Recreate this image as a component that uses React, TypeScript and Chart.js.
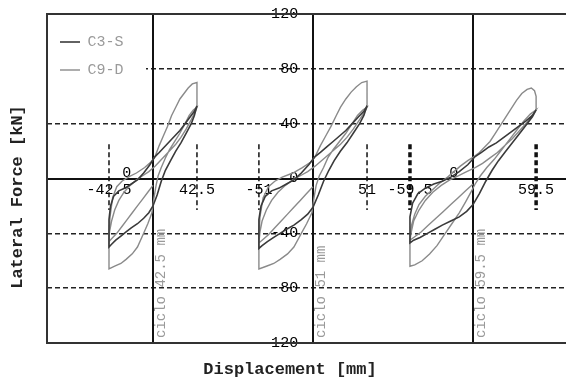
import React, { useEffect, useRef } from "react";
import { Chart, registerables } from "chart.js";

Chart.register(...registerables);

// ---------- data ----------
const cycleAmplitudes = [42.5, 51, 59.5];
const cycleNames = ["ciclo 42.5 mm", "ciclo 51 mm", "ciclo 59.5 mm"];
const forceTicks = [-120, -80, -40, 0, 40, 80, 120];
const seriesNames = ["C3-S", "C9-D"];
const markerTop = 25;
const markerBottom = -23;

// C3-S loops (displacement mm, force kN)
const c3sCycle1: [number, number][] = [
  [42.5, 53], [40, 49], [36, 45], [31, 40], [26, 35], [21, 31], [16, 27], [11, 23], [6, 19], [2, 16],
  [-3, 10], [-9, 4], [-15, -1], [-21, -4], [-27, -7], [-33, -9], [-38, -13], [-41, -20], [-42.5, -30], [-42.5, -50],
  [-40, -48], [-36, -45], [-31, -42], [-26, -39], [-21, -36], [-15, -33], [-9, -29], [-4, -25], [0, -20], [4, -12],
  [8, -2], [12, 6], [17, 13], [22, 20], [27, 26], [32, 33], [37, 40], [40, 46], [42.5, 53],
];
const c3sCycle2: [number, number][] = [
  [51, 53], [48, 49], [43, 45], [37, 40], [31, 35], [25, 31], [19, 27], [13, 23], [7, 19], [2, 16],
  [-4, 10], [-11, 4], [-18, -1], [-25, -4], [-32, -7], [-39, -9], [-45, -13], [-49, -20], [-51, -30], [-51, -51],
  [-48, -49], [-43, -46], [-37, -43], [-31, -40], [-25, -37], [-18, -34], [-11, -30], [-5, -26], [0, -21], [5, -12],
  [10, -2], [15, 6], [20, 13], [26, 20], [32, 26], [38, 33], [44, 40], [48, 46], [51, 53],
];
const c3sCycle3: [number, number][] = [
  [59.5, 50], [56, 46], [50, 42], [43, 38], [36, 34], [29, 30], [22, 26], [15, 23], [8, 19], [2, 16],
  [-5, 10], [-13, 5], [-21, 1], [-29, -2], [-37, -4], [-45, -7], [-52, -11], [-57, -18], [-59.5, -28], [-59.5, -47],
  [-56, -45], [-50, -43], [-43, -40], [-36, -37], [-29, -34], [-21, -31], [-13, -28], [-6, -24], [0, -19], [6, -11],
  [12, -2], [18, 6], [24, 13], [31, 20], [38, 27], [45, 34], [51, 40], [56, 45], [59.5, 50],
];

// C9-D loops (first cycle + repeated cycle per amplitude)
const c9dCycle1: [number, number][] = [
  [42.5, 52], [42.5, 70], [38, 69], [34, 66], [30, 62], [26, 58], [22, 52], [18, 46], [14, 38], [10, 31], [6, 24], [2, 16],
  [-2, 12], [-8, 8], [-16, 4], [-24, 1], [-30, -2], [-35, -6], [-39, -14], [-41.5, -28], [-42.5, -40], [-42.5, -66],
  [-37, -64], [-31, -62], [-26, -59], [-20, -55], [-15, -50], [-9, -40], [-5, -33], [-1, -25], [1, -14], [3, -5],
  [5, 2], [8, 8], [12, 15], [16, 21], [21, 27], [26, 33], [31, 40], [35, 46], [39, 50], [42.5, 52],
  [41, 49], [37, 43], [32, 36], [27, 30], [22, 25], [17, 21], [12, 17], [7, 13], [2, 9], [-4, 5],
  [-10, 2], [-16, -1], [-22, -5], [-28, -10], [-33, -16], [-37, -23], [-40, -31], [-42, -39], [-42.5, -46],
  [-40, -44], [-35, -40], [-30, -35], [-25, -30], [-20, -25], [-15, -20], [-10, -15], [-5, -10], [0, -5],
];
const c9dCycle2: [number, number][] = [
  [51, 52], [51, 71], [46, 70], [41, 67], [36, 63], [31, 58], [26, 52], [22, 46], [17, 38], [12, 31], [7, 24], [2, 16],
  [-2, 12], [-10, 8], [-19, 4], [-29, 1], [-36, -2], [-42, -6], [-47, -14], [-50, -28], [-51, -42], [-51, -66],
  [-44, -64], [-37, -62], [-31, -59], [-24, -55], [-18, -50], [-11, -40], [-6, -33], [-1, -25], [1, -14], [3, -5],
  [6, 2], [10, 8], [14, 15], [19, 21], [25, 27], [31, 33], [37, 40], [42, 46], [47, 50], [51, 52],
  [49, 49], [44, 43], [38, 36], [32, 30], [26, 25], [20, 21], [14, 17], [8, 13], [2, 9], [-5, 5],
  [-12, 2], [-19, -1], [-26, -5], [-33, -10], [-39, -16], [-44, -23], [-48, -31], [-50, -39], [-51, -47],
  [-48, -45], [-42, -41], [-36, -36], [-30, -31], [-24, -26], [-18, -21], [-12, -16], [-6, -11], [0, -6],
];
const c9dCycle3: [number, number][] = [
  [59.5, 50], [59.5, 60], [58, 64], [55, 66], [51, 65], [46, 62], [41, 57], [36, 51], [31, 45], [26, 39], [21, 33],
  [16, 27], [11, 23], [6, 19], [1, 16], [-5, 13], [-12, 9], [-18, 5], [-24, 1], [-31, -3], [-38, -8], [-45, -13],
  [-51, -19], [-55, -26], [-58, -34], [-59.5, -44], [-59.5, -64],
  [-55, -63], [-48, -60], [-41, -55], [-34, -49], [-27, -41], [-20, -33], [-13, -25], [-7, -17], [-2, -10], [2, -4],
  [7, 2], [13, 8], [20, 14], [27, 21], [34, 28], [41, 35], [48, 42], [54, 47], [59.5, 50],
  [57, 47], [51, 41], [44, 35], [37, 29], [30, 24], [23, 19], [16, 15], [9, 11], [2, 8], [-6, 5],
  [-14, 2], [-22, -1], [-30, -5], [-38, -10], [-45, -16], [-51, -23], [-56, -31], [-58, -38], [-59.5, -45],
  [-56, -43], [-49, -39], [-42, -34], [-35, -29], [-28, -24], [-21, -19], [-14, -14], [-7, -9], [0, -4],
];

const c3sLoops = [c3sCycle1, c3sCycle2, c3sCycle3];
const c9dLoops = [c9dCycle1, c9dCycle2, c9dCycle3];

// ---------- layout / style constants ----------
const xAxisIds = ["x1", "x2", "x3"];
const xRanges: [number, number][] = [
  [-102.4, 412.6],
  [-250.9, 251.9],
  [-401.9, 100.9],
];
const labelAxisShift = [-21, -14, -14]; // where the force labels sit, left of each zero line
const markerWidths = [1.5, 1.5, 3.5];
const C3S_COLOR = "#3a3a3a";
const C9D_COLOR = "#8a8a8a";
const MONO = "'Liberation Mono', 'DejaVu Sans Mono', monospace";

const legendBackPlugin = {
  id: "legendBack",
  beforeDatasetsDraw(chart: any) {
    const { ctx, chartArea: a } = chart;
    ctx.save();
    ctx.fillStyle = "#fff";
    ctx.fillRect(a.left + 1, a.top + 1, 98, 64);
    ctx.restore();
    if (chart.legend) chart.legend.draw();
  },
};

const framePlugin = {
  id: "frame",
  beforeDatasetsDraw(chart: any) {
    const { ctx, chartArea: a } = chart;
    ctx.save();
    ctx.strokeStyle = "#333";
    ctx.lineWidth = 2;
    ctx.strokeRect(a.left, a.top, a.right - a.left, a.bottom - a.top);
    ctx.restore();
  },
};

const notesPlugin = {
  id: "cycleNotes",
  afterDatasetsDraw(chart: any) {
    const { ctx, chartArea: a, scales } = chart;
    ctx.save();
    ctx.font = `14px ${MONO}`;
    ctx.fillStyle = "#9a9a9a";
    ctx.textAlign = "left";
    ctx.textBaseline = "middle";
    cycleNames.forEach((name, i) => {
      const x = scales[xAxisIds[i]].getPixelForValue(0) + 8;
      ctx.save();
      ctx.translate(x, a.bottom - 5);
      ctx.rotate(-Math.PI / 2);
      ctx.fillText(name, 0, 0);
      ctx.restore();
    });
    ctx.restore();
  },
};

export default function App() {
  const ref = useRef<HTMLCanvasElement | null>(null);

  useEffect(() => {
    if (!ref.current) return;
    const datasets: any[] = [];
    cycleAmplitudes.forEach((amp, i) => {
      datasets.push({
        label: i === 0 ? seriesNames[0] : "",
        data: c3sLoops[i].map(([x, y]) => ({ x, y })),
        xAxisID: xAxisIds[i],
        yAxisID: "y",
        showLine: true,
        borderColor: C3S_COLOR,
        backgroundColor: C3S_COLOR,
        borderWidth: 1.6,
        pointRadius: 0,
        tension: 0,
      });
    });
    cycleAmplitudes.forEach((amp, i) => {
      datasets.push({
        label: i === 0 ? seriesNames[1] : "",
        data: c9dLoops[i].map(([x, y]) => ({ x, y })),
        xAxisID: xAxisIds[i],
        yAxisID: "y",
        showLine: true,
        borderColor: C9D_COLOR,
        backgroundColor: C9D_COLOR,
        borderWidth: 1.4,
        pointRadius: 0,
        tension: 0,
      });
    });
    cycleAmplitudes.forEach((amp, i) => {
      [-amp, amp].forEach((d) => {
        datasets.push({
          label: "",
          data: [
            { x: d, y: markerTop },
            { x: d, y: markerBottom },
          ],
          xAxisID: xAxisIds[i],
          yAxisID: "y",
          showLine: true,
          borderColor: "#111",
          borderWidth: markerWidths[i],
          borderDash: [5, 3],
          pointRadius: 0,
        });
      });
    });

    const scales: any = {
      y: {
        axis: "y",
        type: "linear",
        position: { x2: labelAxisShift[1] },
        min: -120,
        max: 120,
        afterBuildTicks: (s: any) => {
          s.ticks = forceTicks.map((v) => ({ value: v }));
        },
        ticks: {
          font: { family: MONO, size: 15 },
          color: "#000",
          padding: 0,
          callback: (v: any) => String(v),
        },
        grid: {
          drawTicks: false,
          lineWidth: 1.5,
          color: (c: any) =>
            c.tick && (c.tick.value === 0 || Math.abs(c.tick.value) === 120) ? "rgba(0,0,0,0)" : "#222",
        },
        border: { display: false, dash: [5, 3] },
      },
    };
    // force "0" labels of the outer panels
    [0, 2].forEach((i) => {
      scales["y" + (i + 1)] = {
        axis: "y",
        type: "linear",
        position: { [xAxisIds[i]]: labelAxisShift[i] },
        min: -120,
        max: 120,
        afterBuildTicks: (s: any) => {
          s.ticks = [{ value: 0 }];
        },
        ticks: {
          font: { family: MONO, size: 15 },
          color: "#000",
          padding: 0,
          labelOffset: -5,
          callback: (v: any) => String(v),
        },
        grid: { display: false, drawTicks: false },
        border: { display: false },
      };
    });
    // solid zero lines of every panel
    xAxisIds.forEach((xid, i) => {
      scales["z" + (i + 1)] = {
        axis: "y",
        type: "linear",
        position: { [xid]: 0 },
        min: -120,
        max: 120,
        ticks: { display: false },
        grid: { display: false, drawTicks: false },
        border: { display: true, color: "#111", width: 2 },
      };
    });
    xAxisIds.forEach((id, i) => {
      scales[id] = {
        axis: "x",
        type: "linear",
        position: { y: 0 },
        min: xRanges[i][0],
        max: xRanges[i][1],
        afterBuildTicks: (s: any) => {
          s.ticks = [{ value: -cycleAmplitudes[i] }, { value: cycleAmplitudes[i] }];
        },
        ticks: {
          font: { family: MONO, size: 15 },
          color: "#000",
          padding: 3,
          maxRotation: 0,
          autoSkip: false,
          callback: (v: any) => String(v),
        },
        grid: { display: false, drawTicks: false },
        border: { display: i === 0, color: "#111", width: 2 },
      };
    });

    const chart = new Chart(ref.current, {
      type: "scatter",
      data: { datasets },
      options: {
        animation: false,
        responsive: false,
        devicePixelRatio: 1,
        layout: { padding: { left: 0, right: 20, top: 14, bottom: 0 } },
        scales,
        plugins: {
          legend: {
            position: "chartArea" as any,
            align: "start",
            title: { display: true, text: " ", font: { size: 10, lineHeight: 1 }, padding: { top: 11.5, bottom: 0 } },
            labels: {
              filter: (item: any) => item.text !== "",
              usePointStyle: true,
              pointStyle: "line",
              pointStyleWidth: 20,
              padding: 13,
              color: "#9a9a9a",
              font: { family: MONO, size: 15 },
            },
          },
          title: {
            display: true,
            position: "bottom",
            text: "Displacement [mm]",
            color: "#222",
            font: { family: MONO, size: 17, weight: "bold", lineHeight: 1 },
            padding: { top: 18.5, bottom: 1.5 },
          },
          subtitle: {
            display: true,
            position: "left",
            text: "Lateral Force [kN]",
            color: "#222",
            font: { family: MONO, size: 17, weight: "bold", lineHeight: 1 },
            padding: { top: 9.5, bottom: 20.5 },
          },
          tooltip: { enabled: false },
        },
      },
      plugins: [legendBackPlugin, framePlugin, notesPlugin],
    });
    return () => chart.destroy();
  }, []);

  return (
    <div
      style={{
        position: "absolute",
        left: 0,
        top: 0,
        width: 566,
        height: 378,
        overflow: "hidden",
        background: "#fff",
      }}
    >
      <canvas ref={ref} width={600} height={380} style={{ width: 600, height: 380, display: "block" }} />
    </div>
  );
}
